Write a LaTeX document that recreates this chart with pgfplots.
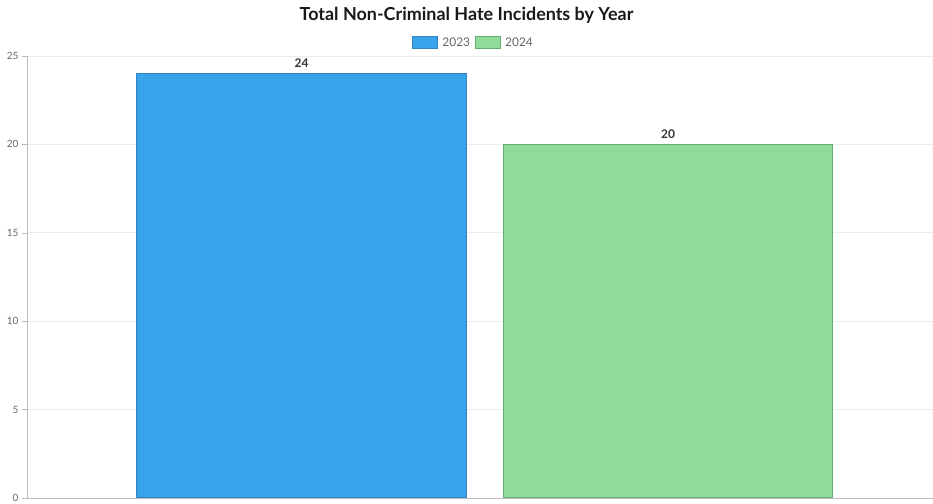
\documentclass[border=0pt]{standalone}
\usepackage{fontspec}
\setmainfont{Lato}
\usepackage{pgfplots}
\pgfplotsset{compat=1.18}
\definecolor{blueF}{HTML}{38A3EA}
\definecolor{blueB}{HTML}{2F86C3}
\definecolor{greenF}{HTML}{90DB98}
\definecolor{greenB}{HTML}{66AE72}
\definecolor{gridc}{HTML}{EBEBEB}
\definecolor{axisc}{HTML}{BDBDBD}
\definecolor{tickc}{HTML}{666666}
\begin{document}
\begin{tikzpicture}
\path[use as bounding box] (-27bp,-6bp) rectangle (906bp,498bp);
\begin{axis}[
  at={(0,0)}, anchor=south west,
  width=906bp, height=442bp, scale only axis,
  xmin=-0.749, xmax=1.723, ymin=0, ymax=25,
  ytick={0,5,...,25}, xtick=\empty,
  axis x line*=bottom, axis y line*=left,
  axis line style={draw=axisc,-},
  ymajorgrids, grid style={draw=gridc, line width=0.8bp},
  major tick length=5bp, tick align=outside,
  ytick style={draw=axisc},
  y tick label style={font=\fontsize{10}{12}\selectfont, text=tickc},
  /pgf/number format/assume math mode=true,
  legend style={at={(0.493,1)}, anchor=center, yshift=13bp, draw=none,
    font=\fontsize{12}{14}\selectfont, text=tickc, fill=none,
    /tikz/every odd column/.append style={column sep=2bp},
    /tikz/every even column/.append style={column sep=3bp}},
  legend columns=-1,
  nodes near coords,
  nodes near coords style={font=\bfseries\fontsize{12}{14}\selectfont, text=black!80, yshift=2bp},
  clip=false,
]
\addplot[ybar, bar width=0.898, bar shift=0pt, fill=blueF, draw=blueB, line width=1bp,
  legend image code/.code={\draw[fill=blueF,draw=blueB,line width=1bp] (0bp,-5bp) rectangle (25bp,7bp);}]
  coordinates {(0,24)};
\addlegendentry{2023}
\addplot[ybar, bar width=0.898, bar shift=0pt, fill=greenF, draw=greenB, line width=1bp,
  legend image code/.code={\draw[fill=greenF,draw=greenB,line width=1bp] (0bp,-5bp) rectangle (25bp,7bp);}]
  coordinates {(1,20)};
\addlegendentry{2024}
\end{axis}
\node[font=\bfseries\fontsize{18}{22}\selectfont, text=black!90] at (439.5bp,483bp) {Total Non-Criminal Hate Incidents by Year};
\end{tikzpicture}
\end{document}
